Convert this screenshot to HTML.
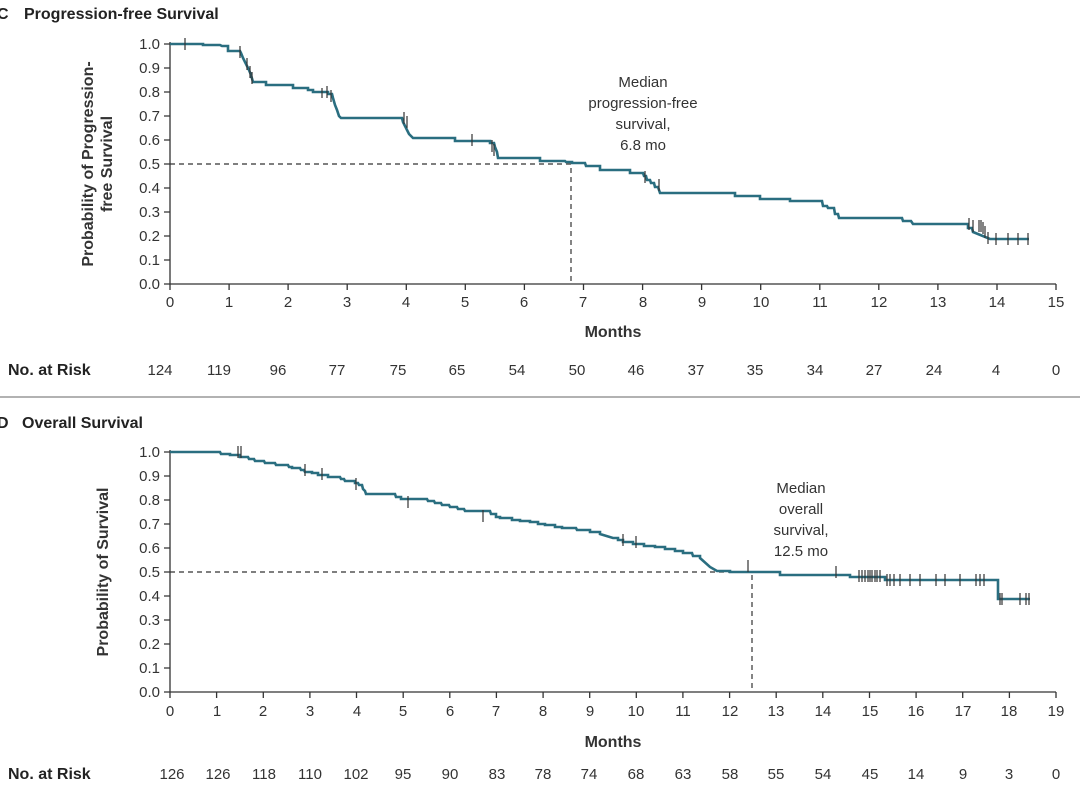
<!DOCTYPE html>
<html><head><meta charset="utf-8"><style>
html,body{margin:0;padding:0;background:#fff;}
svg{display:block;font-family:"Liberation Sans",sans-serif;}
</style></head><body>
<svg width="1080" height="795" viewBox="0 0 1080 795">
<g font-size="16" fill="#222" font-weight="bold">
<text x="-3" y="19">C</text><text x="24" y="19">Progression-free Survival</text>
<text x="-3" y="428">D</text><text x="22" y="428">Overall Survival</text>
</g>
<line x1="0" y1="397" x2="1080" y2="397" stroke="#999" stroke-width="1.5"/>
<g stroke="#333" stroke-width="1.3" fill="none">
<path d="M170,42V284H1056"/>
<path d="M164,44H170M164,68H170M164,92H170M164,116H170M164,140H170M164,164H170M164,188H170M164,212H170M164,236H170M164,260H170M164,284H170"/>
<path d="M170,284v6M229.1,284v6M288.1,284v6M347.2,284v6M406.3,284v6M465.3,284v6M524.4,284v6M583.5,284v6M642.6,284v6M701.6,284v6M760.7,284v6M819.8,284v6M878.8,284v6M937.9,284v6M997,284v6M1056,284v6"/>
</g>
<g font-size="15" fill="#333" text-anchor="end">
<text x="160" y="49">1.0</text><text x="160" y="73">0.9</text><text x="160" y="97">0.8</text><text x="160" y="121">0.7</text><text x="160" y="145">0.6</text><text x="160" y="169">0.5</text><text x="160" y="193">0.4</text><text x="160" y="217">0.3</text><text x="160" y="241">0.2</text><text x="160" y="265">0.1</text><text x="160" y="289">0.0</text>
</g>
<g font-size="15" fill="#333" text-anchor="middle">
<text x="170" y="307">0</text><text x="229" y="307">1</text><text x="288" y="307">2</text><text x="347" y="307">3</text><text x="406" y="307">4</text><text x="465" y="307">5</text><text x="524" y="307">6</text><text x="583" y="307">7</text><text x="643" y="307">8</text><text x="702" y="307">9</text><text x="761" y="307">10</text><text x="820" y="307">11</text><text x="879" y="307">12</text><text x="938" y="307">13</text><text x="997" y="307">14</text><text x="1056" y="307">15</text>
<text x="613" y="337" font-weight="bold" font-size="16">Months</text>
<text x="643" y="87">Median</text><text x="643" y="108">progression-free</text><text x="643" y="129">survival,</text><text x="643" y="150">6.8 mo</text>
<text x="160" y="375">124</text><text x="219" y="375">119</text><text x="278" y="375">96</text><text x="337" y="375">77</text><text x="398" y="375">75</text><text x="457" y="375">65</text><text x="517" y="375">54</text><text x="577" y="375">50</text><text x="636" y="375">46</text><text x="696" y="375">37</text><text x="755" y="375">35</text><text x="815" y="375">34</text><text x="874" y="375">27</text><text x="934" y="375">24</text><text x="996" y="375">4</text><text x="1056" y="375">0</text>
</g>
<text x="8" y="375" font-size="16" font-weight="bold" fill="#222">No. at Risk</text>
<text transform="translate(93,164) rotate(-90)" font-size="16" font-weight="bold" fill="#333" text-anchor="middle">Probability of Progression-</text>
<text transform="translate(112,164) rotate(-90)" font-size="16" font-weight="bold" fill="#333" text-anchor="middle">free Survival</text>
<path d="M170,164H571V284" stroke="#333" stroke-width="1.2" stroke-dasharray="5,4" fill="none"/>
<polyline fill="none" stroke="#2a6e80" stroke-width="2.6" points="170,44 203,44 203,45 220,45 222,46 228,46 228,51 240,51 241,53 243,58 245,62 247,66 249,70 251,75 253,82 266,82 266,85 293,85 293,88 308,88 308,90 313,90 313,92 328,92 328,94 332,94 333,98 335,105 337,110 339,116 341,118 402,118 403,122 405,126 407,130 409,134 413,138 455,138 455,141 490,141 490,143 494,143 495,147 497,152 498,158 540,158 540,161 565,161 566,162 572,162 572,163 585,163 586,166 600,166 600,170 630,170 630,173 643,173 644,176 646,176 647,180 650,180 651,183 654,183 655,187 658,187 660,193 735,193 735,196 760,196 760,199 790,199 790,201 822,201 823,206 827,206 828,208 834,208 835,214 838,214 839,218 850,218 850,218 902,218 903,221 911,221 913,224 968,224 968,228 972,228 973,232 990,239 1029,239"/>
<g stroke="#333" stroke-width="1.2">
<path d="M185,38v12M240,46v12M247,58v12M250,66v12M252,72v12M322,88v10M327,86v12M331,90v12M404,112v12M407,116v12M472,134v12M492,140v12M494,144v12M645,171v12M659,179v12M969,218v12M973,220v12M979,220v12M981,220v12M983,222v12M985,226v12M988,232v12M996,233v12M1008,233v12M1018,233v12M1028,233v12"/>
</g>
<g stroke="#333" stroke-width="1.3" fill="none">
<path d="M170,450V692H1056"/>
<path d="M164,452H170M164,476H170M164,500H170M164,524H170M164,548H170M164,572H170M164,596H170M164,620H170M164,644H170M164,668H170M164,692H170"/>
<path d="M170,692v6M216.6,692v6M263.3,692v6M309.9,692v6M356.5,692v6M403.2,692v6M449.8,692v6M496.4,692v6M543.1,692v6M589.7,692v6M636.3,692v6M682.9,692v6M729.6,692v6M776.2,692v6M822.8,692v6M869.5,692v6M916.1,692v6M962.7,692v6M1009.4,692v6M1056,692v6"/>
</g>
<g font-size="15" fill="#333" text-anchor="end">
<text x="160" y="457">1.0</text><text x="160" y="481">0.9</text><text x="160" y="505">0.8</text><text x="160" y="529">0.7</text><text x="160" y="553">0.6</text><text x="160" y="577">0.5</text><text x="160" y="601">0.4</text><text x="160" y="625">0.3</text><text x="160" y="649">0.2</text><text x="160" y="673">0.1</text><text x="160" y="697">0.0</text>
</g>
<g font-size="15" fill="#333" text-anchor="middle">
<text x="170" y="716">0</text><text x="217" y="716">1</text><text x="263" y="716">2</text><text x="310" y="716">3</text><text x="357" y="716">4</text><text x="403" y="716">5</text><text x="450" y="716">6</text><text x="496" y="716">7</text><text x="543" y="716">8</text><text x="590" y="716">9</text><text x="636" y="716">10</text><text x="683" y="716">11</text><text x="730" y="716">12</text><text x="776" y="716">13</text><text x="823" y="716">14</text><text x="870" y="716">15</text><text x="916" y="716">16</text><text x="963" y="716">17</text><text x="1009" y="716">18</text><text x="1056" y="716">19</text>
<text x="613" y="747" font-weight="bold" font-size="16">Months</text>
<text x="801" y="493">Median</text><text x="801" y="514">overall</text><text x="801" y="535">survival,</text><text x="801" y="556">12.5 mo</text>
<text x="172" y="779">126</text><text x="218" y="779">126</text><text x="264" y="779">118</text><text x="310" y="779">110</text><text x="356" y="779">102</text><text x="403" y="779">95</text><text x="450" y="779">90</text><text x="497" y="779">83</text><text x="543" y="779">78</text><text x="589" y="779">74</text><text x="636" y="779">68</text><text x="683" y="779">63</text><text x="730" y="779">58</text><text x="776" y="779">55</text><text x="823" y="779">54</text><text x="870" y="779">45</text><text x="916" y="779">14</text><text x="963" y="779">9</text><text x="1009" y="779">3</text><text x="1056" y="779">0</text>
</g>
<text x="8" y="779" font-size="16" font-weight="bold" fill="#222">No. at Risk</text>
<text transform="translate(108,572) rotate(-90)" font-size="16" font-weight="bold" fill="#333" text-anchor="middle">Probability of Survival</text>
<path d="M170,572H752V692" stroke="#333" stroke-width="1.2" stroke-dasharray="5,4" fill="none"/>
<polyline fill="none" stroke="#2a6e80" stroke-width="2.6" points="170,452 220,452 221,454 230,454 230,455 240,455 240,457 248,457 249,459 254,459 255,461 264,461 265,463 275,463 276,465 288,465 289,467 292,467 292,468 300,468 301,470 304,470 305,472 312,472 312,473 318,473 318,475 328,475 328,477 340,477 341,479 344,479 345,481 355,481 355,483 358,483 359,485 362,485 363,489 365,491 366,494 395,494 396,497 401,497 401,499 427,499 428,501 434,501 435,503 441,503 442,505 449,505 450,507 457,507 458,509 464,509 465,511 490,511 491,514 496,514 496,517 500,517 500,518 512,518 512,520 520,520 520,521 530,521 530,522 538,522 538,524 545,524 545,525 555,525 555,527 562,527 562,528 576,528 577,530 590,530 590,532 600,532 600,534 613,538 618,538 618,540 623,540 623,542 633,542 633,544 644,544 644,546 655,546 655,547 665,547 665,549 675,549 675,551 683,551 683,553 692,553 693,556 700,556 700,558 710,567 717,571 730,571 730,572 752,572 753,572 780,572 780,575 850,575 850,577 885,577 885,580 998,580 998,599 1030,599"/>
<g stroke="#333" stroke-width="1.2">
<path d="M238,446v12M241,446v12M305,464v12M322,468v12M356,478v12M408,496v12M483,510v12M623,534v12M636,536v12M748,560v12M836,566v12M859,570v12M862,570v12M865,570v12M868,570v12M870,570v12M872,570v12M875,570v12M877,570v12M880,570v12M887,574v12M890,574v12M894,574v12M900,574v12M910,574v12M920,574v12M936,574v12M945,574v12M960,574v12M976,574v12M980,574v12M984,574v12M1000,593v12M1002,593v12M1020,593v12M1026,593v12M1029,593v12"/>
</g>
</svg>
</body></html>
